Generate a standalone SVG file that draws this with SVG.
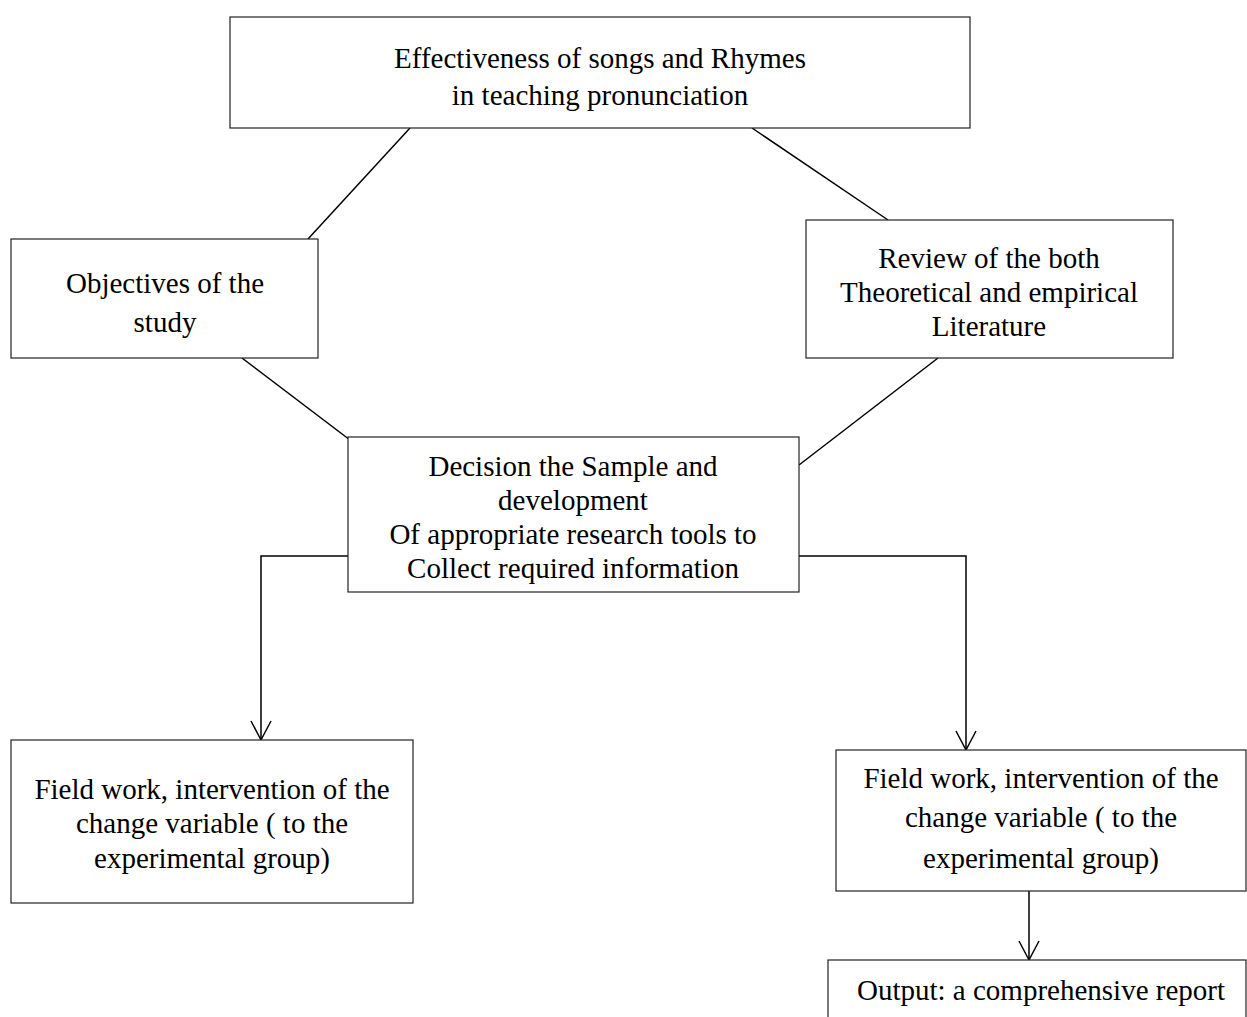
<svg xmlns="http://www.w3.org/2000/svg" width="1247" height="1017" viewBox="0 0 1247 1017">
<defs>
<style>
.box{fill:#fff;stroke:#222;stroke-width:1.2}
.t{font-family:"Liberation Serif","Times New Roman",serif;font-size:29px;fill:#000;text-anchor:middle}
.c{fill:none;stroke:#000;stroke-width:1.5}
</style>
</defs>
<rect width="1247" height="1017" fill="#fff"/>
<g id="connectors">
<line class="c" x1="410" y1="128" x2="308" y2="239"/>
<line class="c" x1="752" y1="128" x2="888" y2="220"/>
<line class="c" x1="242" y1="358" x2="350" y2="440"/>
<line class="c" x1="938" y1="358" x2="799" y2="465"/>
<path class="c" d="M348,556 H261 V739"/>
<path class="c" d="M799,556 H966 V749"/>
<line class="c" x1="1029" y1="891" x2="1029" y2="959"/>
<path class="c" d="M251,721 L261,740 L271,721"/>
<path class="c" d="M956,731 L966,750 L976,731"/>
<path class="c" d="M1019,941 L1029,960 L1039,941"/>
</g>
<g id="n-top">
<rect class="box" x="230" y="17" width="740" height="111"/>
<text class="t" x="600" y="68">Effectiveness of songs and Rhymes</text>
<text class="t" x="600" y="105">in teaching pronunciation</text>
</g>
<g id="n-objectives">
<rect class="box" x="11" y="239" width="307" height="119"/>
<text class="t" x="165" y="293">Objectives of the</text>
<text class="t" x="165" y="332">study</text>
</g>
<g id="n-review">
<rect class="box" x="806" y="220" width="367" height="138"/>
<text class="t" x="989" y="268">Review of the both</text>
<text class="t" x="989" y="302">Theoretical and empirical</text>
<text class="t" x="989" y="336">Literature</text>
</g>
<g id="n-decision">
<rect class="box" x="348" y="437" width="451" height="155"/>
<text class="t" x="573" y="476">Decision the Sample and</text>
<text class="t" x="573" y="510">development</text>
<text class="t" x="573" y="544">Of appropriate research tools to</text>
<text class="t" x="573" y="578">Collect required information</text>
</g>
<g id="n-field-left">
<rect class="box" x="11" y="740" width="402" height="163"/>
<text class="t" x="212" y="799">Field work, intervention of the</text>
<text class="t" x="212" y="833">change variable ( to the</text>
<text class="t" x="212" y="868">experimental group)</text>
</g>
<g id="n-field-right">
<rect class="box" x="836" y="750" width="410" height="141"/>
<text class="t" x="1041" y="788">Field work, intervention of the</text>
<text class="t" x="1041" y="827">change variable ( to the</text>
<text class="t" x="1041" y="868">experimental group)</text>
</g>
<g id="n-output">
<rect class="box" x="828" y="960" width="418" height="80"/>
<text class="t" x="1041" y="1000">Output: a comprehensive report</text>
</g>
</svg>
